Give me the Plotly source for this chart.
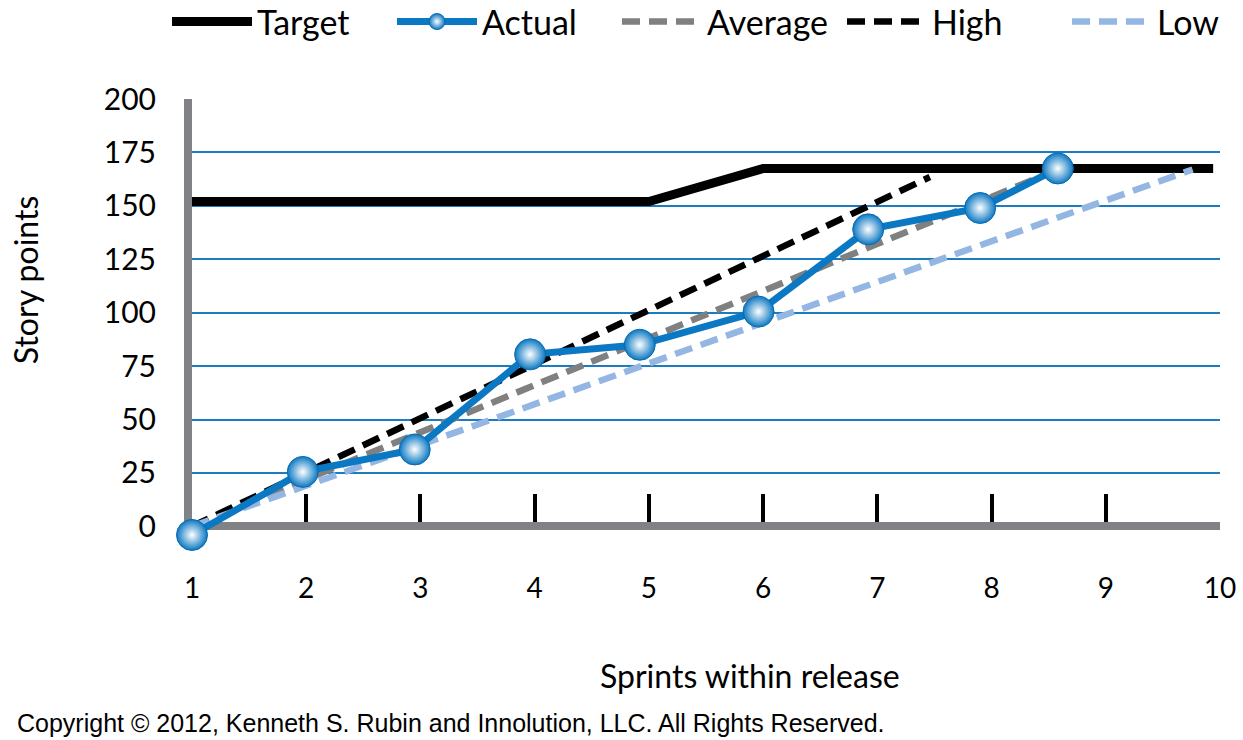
import plotly.graph_objects as go

# ---- data ----
sprint_ticks = [1, 2, 3, 4, 5, 6, 7, 8, 9, 10]
y_ticks = [0, 25, 50, 75, 100, 125, 150, 175, 200]

target_x = [1, 5, 6, 9.94]
target_y = [152, 152, 167.5, 167.5]

actual_x = [1, 1.97, 2.95, 3.96, 4.92, 5.96, 6.92, 7.90, 8.58]
actual_y = [-4, 25.5, 36, 80.5, 85, 100.5, 139, 149, 167.5]

average_x = [1, 8.58]
average_y = [0, 167]

high_x = [1, 7.46]
high_y = [0, 163.5]

low_x = [1, 9.76]
low_y = [0, 167]

HAND = "Lato, 'Open Sans', sans-serif"
BLUE = "#0b78c3"
GRID = "#1b7cc2"
AXIS = "#808285"

Y_MIN, Y_MAX = -4.5, 200
PLOT_LEFT, PLOT_RIGHT = 192, 1220
PLOT_TOP, PLOT_BOTTOM = 99, 535.6
PLOT_H = PLOT_BOTTOM - PLOT_TOP
PLOT_W = PLOT_RIGHT - PLOT_LEFT


def py(pix):
    """convert a pixel row of the page to paper coordinates"""
    return (PLOT_BOTTOM - pix) / PLOT_H


def px(pix):
    """convert a pixel column of the page to paper coordinates"""
    return (pix - PLOT_LEFT) / PLOT_W


fig = go.Figure()

fig.add_trace(go.Scatter(x=target_x, y=target_y, mode="lines", name="Target", legendrank=1,
                         line=dict(color="black", width=9)))
fig.add_trace(go.Scatter(x=average_x, y=average_y, mode="lines", name="Average", legendrank=3,
                         line=dict(color="#808080", width=6.5, dash="18px,9px")))
fig.add_trace(go.Scatter(x=high_x, y=high_y, mode="lines", name="High", legendrank=4,
                         line=dict(color="black", width=6.5, dash="18px,9px")))
fig.add_trace(go.Scatter(x=low_x, y=low_y, mode="lines", name="Low", legendrank=5,
                         line=dict(color="#94b6e2", width=6.5, dash="18px,9px")))
fig.add_trace(go.Scatter(x=actual_x, y=actual_y, mode="lines+markers", name="Actual", legendrank=2,
                         line=dict(color=BLUE, width=7),
                         marker=dict(size=31, color=BLUE,
                                     gradient=dict(type="radial", color="white"),
                                     line=dict(color="#0a6aae", width=1)),
                         cliponaxis=False))

fig.update_layout(
    width=1243, height=740,
    margin=dict(l=PLOT_LEFT, r=1243 - PLOT_RIGHT, t=PLOT_TOP, b=740 - PLOT_BOTTOM,
                autoexpand=False),
    paper_bgcolor="white", plot_bgcolor="white",
    font=dict(family=HAND, color="black"),
    showlegend=True,
    legend=dict(orientation="h", x=px(167), xanchor="left", y=py(22), yanchor="middle",
                font=dict(family=HAND, size=34), itemwidth=80,
                entrywidth=130, entrywidthmode="pixels",
                traceorder="normal", bgcolor="rgba(0,0,0,0)"),
    xaxis=dict(range=[1, 10], tickvals=sprint_ticks, ticktext=[str(v) for v in sprint_ticks],
               anchor="free", position=(0 - Y_MIN) / (Y_MAX - Y_MIN),
               showgrid=False, zeroline=False,
               showline=True, linecolor=AXIS, linewidth=8,
               ticks="inside", ticklen=28, tickwidth=4, tickcolor="black",
               tickfont=dict(family=HAND, size=28), ticklabelstandoff=34,
               layer="below traces"),
    yaxis=dict(range=[Y_MIN, Y_MAX], tickvals=y_ticks, ticktext=[str(v) for v in y_ticks],
               showgrid=True, gridcolor=GRID, gridwidth=2, zeroline=False,
               showline=True, linecolor=AXIS, linewidth=8,
               ticks="", tickfont=dict(family=HAND, size=30), ticklabelstandoff=22,
               layer="below traces"),
    annotations=[
        dict(text="Story points", xref="paper", yref="paper", x=px(25), y=py(280),
             xanchor="center", yanchor="middle", textangle=-90, showarrow=False,
             font=dict(family=HAND, size=32)),
        dict(text="Sprints within release", xref="paper", yref="paper", x=px(750), y=py(675),
             xanchor="center", yanchor="middle", showarrow=False,
             font=dict(family=HAND, size=32)),
        dict(text="Copyright © 2012, Kenneth S. Rubin and Innolution, LLC. All Rights Reserved.",
             xref="paper", yref="paper", x=px(15), y=py(722), xanchor="left", yanchor="middle",
             showarrow=False, font=dict(family="Liberation Sans, Arial, sans-serif", size=25)),
    ],
)

fig.write_html("out.html")
